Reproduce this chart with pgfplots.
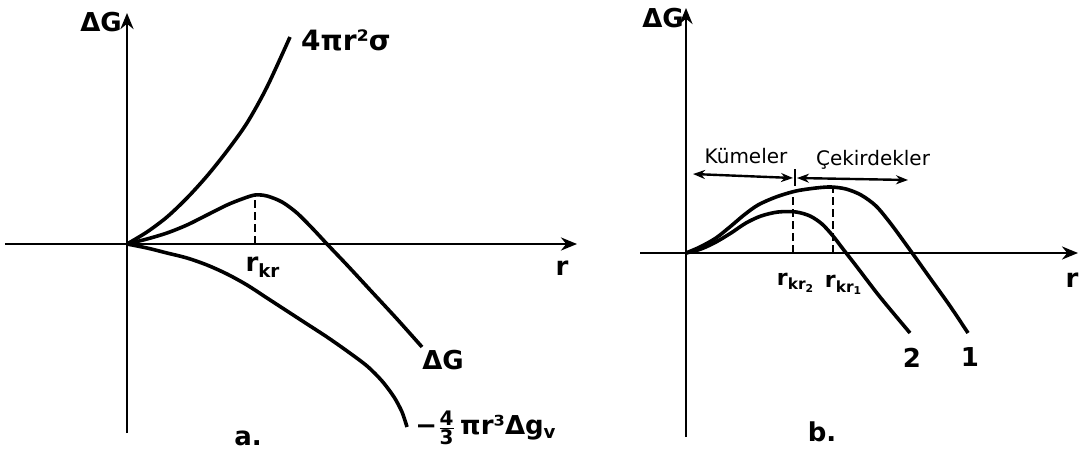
\documentclass[border=0pt]{standalone}
\usepackage{pgfplots}
\pgfplotsset{compat=1.18}
\usetikzlibrary{arrows.meta}
\usepackage{fontspec}
\setmainfont{DejaVu Sans}

\pgfplotsset{
  sketch/.style={
    scale only axis, clip=false,
    axis lines=middle,
    xtick=\empty, ytick=\empty,
    axis line style={line width=1.4pt, -{Stealth[length=8pt,width=6.5pt]}},
    anchor=origin,
  },
  curve/.style={black, line width=1.8pt, smooth, no marks},
  drop/.style={black, line width=1.4pt, dash pattern=on 4pt off 2pt, no marks},
}
\tikzset{
  lbl/.style={font=\fontsize{13}{15}\selectfont\bfseries, inner sep=1pt},
  sub/.style={font=\fontsize{11}{13}\selectfont\bfseries, inner sep=1pt},
  small/.style={font=\fontsize{10}{12}\selectfont, inner sep=1pt},
}

\begin{document}
\begin{tikzpicture}
\useasboundingbox (0,0) rectangle (539.5pt,-229.5pt);

% ---- panel a ----
\begin{axis}[sketch, at={(63.5pt,-122pt)},
    xmin=-122, xmax=450, ymin=-189, ymax=231,
    width=286pt, height=210pt]
  % 4 pi r^2 sigma
  \addplot[curve] coordinates {
    (0,0) (20,12) (40,27) (60,46) (80,68) (100,93) (120,121) (140,157) (163,207)
  };
  % Delta G
  \addplot[curve] coordinates {
    (0,0) (20,5) (40,11) (60,19) (80,29) (100,39) (115,45) (128,49) (140,48)
    (155,42) (170,31) (186,15) (200,0) (220,-21) (245,-48) (270,-75) (295,-103)
  };
  % -4/3 pi r^3 dg_v
  \addplot[curve] coordinates {
    (0,0) (20,-4) (40,-9) (60,-14) (80,-21) (100,-30) (120,-41) (140,-54)
    (160,-67) (180,-80) (200,-93) (220,-107) (240,-122) (255,-137) (267,-153)
    (275,-168) (280,-183)
  };
  \addplot[drop] coordinates {(128,0) (128,49)};

  \node[lbl] at (axis cs:-26,222) {ΔG};
  \node[lbl, font=\fontsize{14}{16}\selectfont\bfseries] at (axis cs:219,204) {4πr²σ};
  \node[lbl] at (axis cs:136,-23) {r\textsubscript{kr}};
  \node[lbl] at (axis cs:435,-24) {r};
  \node[lbl] at (axis cs:316,-116) {ΔG};
  \node[lbl] at (axis cs:359,-184)
    {−$\frac{\mbox{\fontsize{10}{10}\selectfont\bfseries 4}}{\mbox{\fontsize{10}{10}\selectfont\bfseries 3}}$\,πr³Δg\textsubscript{v}};
  \node[lbl] at (axis cs:121,-194) {a.};
\end{axis}

% ---- panel b ----
\begin{axis}[sketch, at={(343pt,-126.5pt)},
    xmin=-46, xmax=392, ymin=-184, ymax=245,
    width=219pt, height=214.5pt]
  % curve 1
  \addplot[curve] coordinates {
    (0,0) (14,6) (30,15) (45,27) (58,38) (72,48) (90,56) (110,62) (130,65)
    (145,66) (160,64) (175,58) (190,47) (205,29) (224,3) (244,-25) (264,-53) (282,-80)
  };
  % curve 2
  \addplot[curve] coordinates {
    (0,0) (15,4) (30,11) (45,20) (60,30) (75,37) (92,41) (110,41) (124,37)
    (136,29) (147,17) (157,4) (171,-14) (194,-44) (224,-80)
  };
  \addplot[drop] coordinates {(107,0) (107,62)};
  \addplot[drop] coordinates {(147,0) (147,65)};
  % Kumeler / Cekirdekler arrows
  \addplot[black, line width=1.2pt, {Stealth[length=6pt]}-{Stealth[length=6pt]}]
    coordinates {(7,79) (107,75)};
  \addplot[black, line width=1.2pt, {Stealth[length=6pt]}-{Stealth[length=6pt]}]
    coordinates {(111,75) (222,73)};
  \addplot[black, line width=1.2pt] coordinates {(109,67) (109,84)};

  \node[lbl] at (axis cs:-23,235) {ΔG};
  \node[small] at (axis cs:60,97) {Kümeler};
  \node[small] at (axis cs:187,93) {Çekirdekler};
  \node[sub] at (axis cs:110,-30) {r\textsubscript{kr\textsubscript{2}}};
  \node[sub] at (axis cs:158,-32) {r\textsubscript{kr\textsubscript{1}}};
  \node[lbl] at (axis cs:386,-27) {r};
  \node[lbl] at (axis cs:226,-105) {2};
  \node[lbl] at (axis cs:284,-104) {1};
  \node[lbl] at (axis cs:136,-179) {b.};
\end{axis}
\end{tikzpicture}
\end{document}
